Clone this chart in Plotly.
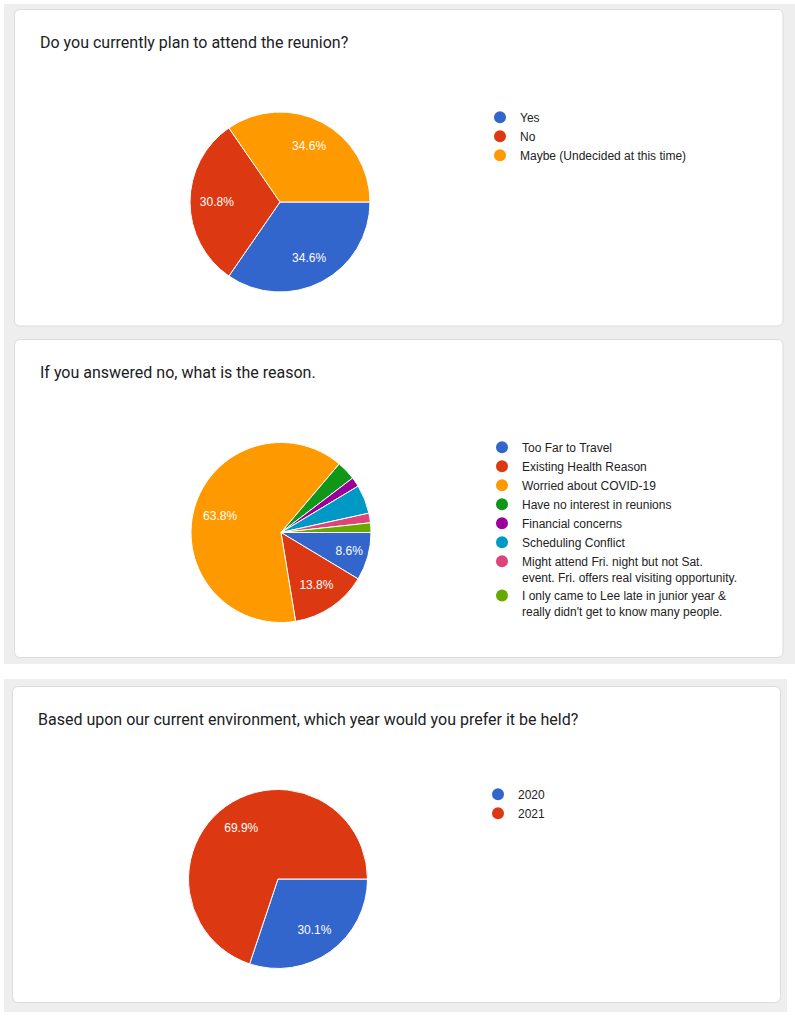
import plotly.graph_objects as go

# ---------------- data ----------------
q1_title = "Do you currently plan to attend the reunion?"
q1_labels = ["Yes", "No", "Maybe (Undecided at this time)"]
q1_values = [9, 8, 9]

q2_title = "If you answered no, what is the reason."
q2_labels = [
    "Too Far to Travel",
    "Existing Health Reason",
    "Worried about COVID-19",
    "Have no interest in reunions",
    "Financial concerns",
    "Scheduling Conflict",
    "Might attend Fri. night but not Sat.<br>event. Fri. offers real visiting opportunity.",
    "I only came to Lee late in junior year &<br>really didn't get to know many people.",
]
q2_values = [5, 8, 37, 2, 1, 3, 1, 1]

q3_title = "Based upon our current environment, which year would you prefer it be held?"
q3_labels = ["2020", "2021"]
q3_values = [22, 51]

COLORS = ["#3366cc", "#dc3912", "#ff9900", "#109618", "#990099",
          "#0099c6", "#dd4477", "#66aa00"]

# ---------------- layout helpers (pixel space) ----------------
W, H = 795, 1017
LABEL_MIN_SHARE = 0.08


def px_x(x):
    return x / W


def px_y(y):
    return 1 - y / H


def rrect(x0, y0, x1, y1, r):
    return (f"M{x0+r},{y0} L{x1-r},{y0} Q{x1},{y0} {x1},{y0+r} "
            f"L{x1},{y1-r} Q{x1},{y1} {x1-r},{y1} L{x0+r},{y1} "
            f"Q{x0},{y1} {x0},{y1-r} L{x0},{y0+r} Q{x0},{y0} {x0+r},{y0} Z")


def pct_text(values):
    total = sum(values)
    return [f"{v / total * 100:.1f}%" if v / total >= LABEL_MIN_SHARE else ""
            for v in values]


fig = go.Figure()

charts = [
    dict(title=q1_title, labels=q1_labels, values=q1_values,
         cx=280, cy=202, r=90, tx=37.5, ty=42, lx=520, ly=117, legend="legend"),
    dict(title=q2_title, labels=q2_labels, values=q2_values,
         cx=281, cy=532.5, r=90, tx=37.5, ty=372, lx=522, ly=447, legend="legend2"),
    dict(title=q3_title, labels=q3_labels, values=q3_values,
         cx=278, cy=879, r=89.5, tx=35.5, ty=719, lx=518, ly=794, legend="legend3"),
]

for c in charts:
    dom = dict(x=[px_x(c["cx"] - c["r"]), px_x(c["cx"] + c["r"])],
               y=[px_y(c["cy"] + c["r"]), px_y(c["cy"] - c["r"])])
    n = len(c["values"])
    cols = COLORS[:n]
    # the pie itself
    fig.add_trace(go.Pie(
        labels=c["labels"], values=c["values"], sort=False,
        direction="clockwise", rotation=90, domain=dom,
        marker=dict(colors=cols, line=dict(color="white", width=1)),
        textinfo="none", showlegend=False, hoverinfo="label+percent",
    ))
    # transparent overlay used only for placing the percentage labels
    fig.add_trace(go.Pie(
        labels=c["labels"], values=c["values"], sort=False,
        direction="clockwise", rotation=90, domain=dom, hole=0.4,
        marker=dict(colors=["rgba(0,0,0,0)"] * n, line=dict(width=0)),
        text=pct_text(c["values"]), textinfo="text",
        textposition="inside", insidetextorientation="horizontal",
        textfont=dict(family="Arial, Liberation Sans, sans-serif",
                      size=12, color="white"),
        showlegend=False, hoverinfo="skip",
    ))
    # legend entries with round markers
    for lab, col in zip(c["labels"], cols):
        fig.add_trace(go.Scatter(
            x=[None], y=[None], mode="markers", name=lab,
            marker=dict(color=col, size=12, symbol="circle"),
            legend=c["legend"], hoverinfo="skip",
        ))

legend_common = dict(
    xanchor="left", yanchor="top", bgcolor="rgba(0,0,0,0)",
    font=dict(family="Arial, Liberation Sans, sans-serif", size=12, color="#222222"),
    valign="top", itemclick=False, itemdoubleclick=False, tracegroupgap=0,
)
legends = {}
for c in charts:
    legends[c["legend"]] = dict(x=px_x(c["lx"] - 40), y=px_y(c["ly"] - 14),
                                **legend_common)

shapes = [
    # grey backdrops
    dict(type="rect", x0=4, x1=795, y0=4, y1=664),
    dict(type="rect", x0=4, x1=787, y0=679, y1=1012),
]
for s in shapes:
    s.update(xref="x", yref="y", fillcolor="#eeeeee", line=dict(width=0), layer="below")
cards = [(14.5, 9.5, 783, 326), (14.5, 339.5, 783, 657.5), (12.5, 686.5, 780.5, 1002.5)]
for x0, y0, x1, y1 in cards:
    shapes.append(dict(type="path", path=rrect(x0, y0, x1, y1, 6), xref="x", yref="y",
                       fillcolor="white", line=dict(color="#dcdcdc", width=1),
                       layer="below"))

annotations = [
    dict(text=c["title"], x=px_x(c["tx"]), y=px_y(c["ty"]), xref="paper", yref="paper",
         xanchor="left", yanchor="middle", showarrow=False,
         font=dict(family="Roboto, Open Sans, sans-serif", size=16, color="#202124"))
    for c in charts
]

fig.update_layout(
    width=W, height=H, margin=dict(l=0, r=0, t=0, b=0),
    paper_bgcolor="white", plot_bgcolor="rgba(0,0,0,0)",
    xaxis=dict(range=[0, W], visible=False, fixedrange=True, domain=[0, 1]),
    yaxis=dict(range=[H, 0], visible=False, fixedrange=True, domain=[0, 1]),
    shapes=shapes, annotations=annotations, **legends,
)

fig.write_html("out.html", config={"displayModeBar": False},
               post_script="document.body.style.margin='0';document.body.style.overflow='hidden';")
